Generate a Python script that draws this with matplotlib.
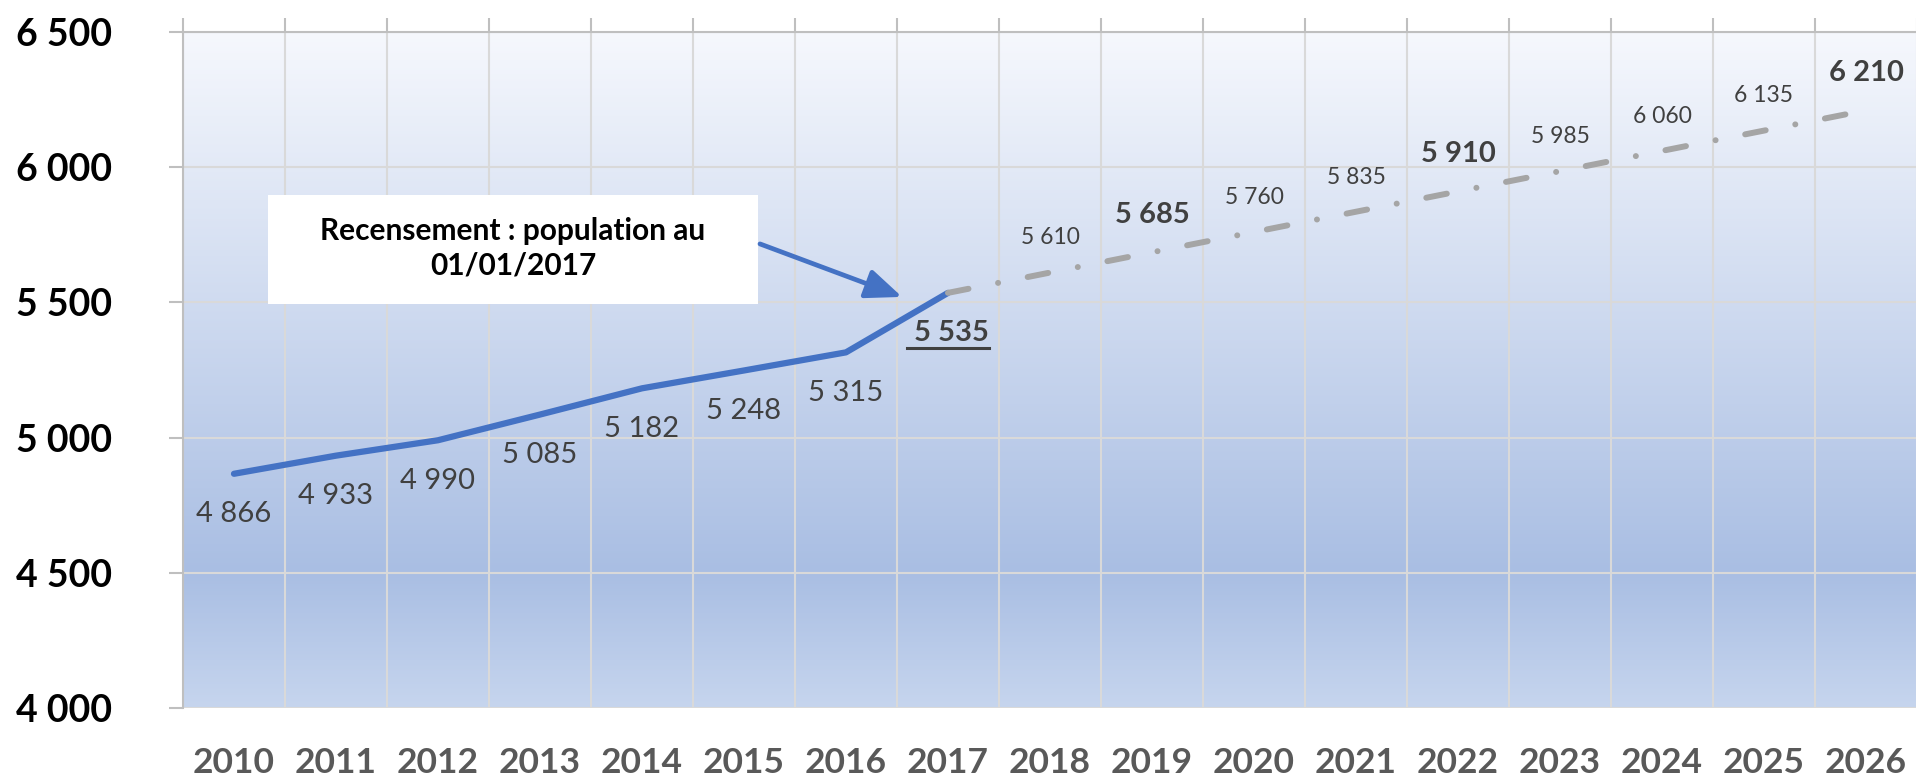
import numpy as np
import matplotlib
matplotlib.use('Agg')
import matplotlib.pyplot as plt
from matplotlib.colors import LinearSegmentedColormap
from matplotlib.lines import Line2D

plt.rcParams['font.family'] = ['Lato', 'DejaVu Sans']

years = ['2010', '2011', '2012', '2013', '2014', '2015', '2016', '2017', '2018',
         '2019', '2020', '2021', '2022', '2023', '2024', '2025', '2026']
observed = [4866, 4933, 4990, 5085, 5182, 5248, 5315, 5535]
projected = [5535, 5610, 5685, 5760, 5835, 5910, 5985, 6060, 6135, 6210]
highlighted = ['2017', '2019', '2022', '2026']

yticks = [4000, 4500, 5000, 5500, 6000, 6500]


def fmt(v):
    return f"{v:,}".replace(",", " ")


fig = plt.figure(figsize=(19.16, 7.78), dpi=100)
ax = fig.add_axes([0.0955, 0.090, 0.905, 0.869])

# gradient plot area
cmap = LinearSegmentedColormap.from_list(
    'bg', [(0.0, '#C6D5EE'), (0.2, '#A9BEE3'), (1.0, '#F6F8FD')])
grad = np.linspace(0, 1, 256).reshape(-1, 1)
ax.imshow(grad, cmap=cmap, aspect='auto', origin='lower',
          extent=[0, 1, 0, 1], transform=ax.transAxes, zorder=0)

x_obs = np.arange(len(observed))
x_proj = np.arange(len(observed) - 1, len(years))

ax.plot(x_obs, observed, color='#4472C4', lw=4.5, solid_capstyle='round',
        solid_joinstyle='round', zorder=3)
ax.plot(x_proj, projected, color='#A5A5A5', lw=4.3, dash_capstyle='round',
        linestyle=(0, (3.5, 5.05, 0.01, 5.05)), zorder=3)

ax.set_xlim(-0.5, len(years) - 0.5)
ax.set_ylim(4000, 6500)

# labels
for i, v in enumerate(observed[:-1]):
    ax.annotate(fmt(v), (i, v), xytext=(0, -29), textcoords='offset points',
                ha='center', va='center', fontsize=21, color='#404040', zorder=4)

t17 = ax.annotate(' ' + fmt(observed[-1]), (len(observed) - 1, observed[-1]),
                  xytext=(0, -29), textcoords='offset points', ha='center',
                  va='center', fontsize=21, fontweight='bold', color='#404040',
                  zorder=4)

for i, v in zip(x_proj[1:], projected[1:]):
    bold = years[i] in highlighted
    ax.annotate(fmt(v), (i, v), xytext=(0, 27 if bold else 25),
                textcoords='offset points', ha='center', va='center',
                fontsize=21 if bold else 16.5,
                fontweight='bold' if bold else 'normal',
                color='#404040', zorder=4)

# axes styling
ax.set_yticks(yticks)
ax.set_yticklabels([fmt(v) for v in yticks])
ax.set_xticks(np.arange(len(years)))
ax.set_xticklabels(years)
ax.set_xticks(np.arange(len(years) + 1) - 0.5, minor=True)
ax.grid(True, which='minor', axis='x', color='#D9D9D9', lw=1.5, zorder=1)
ax.grid(True, which='major', axis='y', color='#D9D9D9', lw=1.5, zorder=1)
ax.set_axisbelow(True)

ax.tick_params(axis='x', which='major', length=0, pad=28, labelsize=25.5,
               labelcolor='#595959')
ax.tick_params(axis='x', which='minor', bottom=False, top=True, length=10,
               width=1.5, color='#BFBFBF', direction='out')
ax.tick_params(axis='y', length=10, width=1.5, color='#BFBFBF', pad=41,
               labelsize=27, labelcolor='black')
for lab in ax.get_xticklabels() + ax.get_yticklabels():
    lab.set_fontweight('bold')

for side in ['bottom', 'right']:
    ax.spines[side].set_visible(False)
for side in ['left', 'top']:
    ax.spines[side].set_color('#BFBFBF')
    ax.spines[side].set_linewidth(1.5)

# annotation box
ax.add_patch(plt.Rectangle((0.333, 5494), 4.804, 403, facecolor='white',
                           edgecolor='none', zorder=5))
ax.text(2.735, 5700, 'Recensement : population au\n01/01/2017', ha='center',
        va='center', fontsize=21.5, fontweight='bold', color='black',
        linespacing=1.3, zorder=6)
ax.annotate('', xy=(6.55, 5520), xytext=(5.157, 5716),
            arrowprops=dict(arrowstyle='-|>,head_length=2.2,head_width=0.9',
                            color='#4472C4', lw=3.4, shrinkA=0, shrinkB=0),
            zorder=6)

# underline for the census value
fig.canvas.draw()
bb = t17.get_window_extent()
fig.add_artist(Line2D([bb.x0, bb.x1], [bb.y0 - 2, bb.y0 - 2],
                      transform=None, color='#404040', lw=2.2))

fig.savefig('out.png', dpi=100)
